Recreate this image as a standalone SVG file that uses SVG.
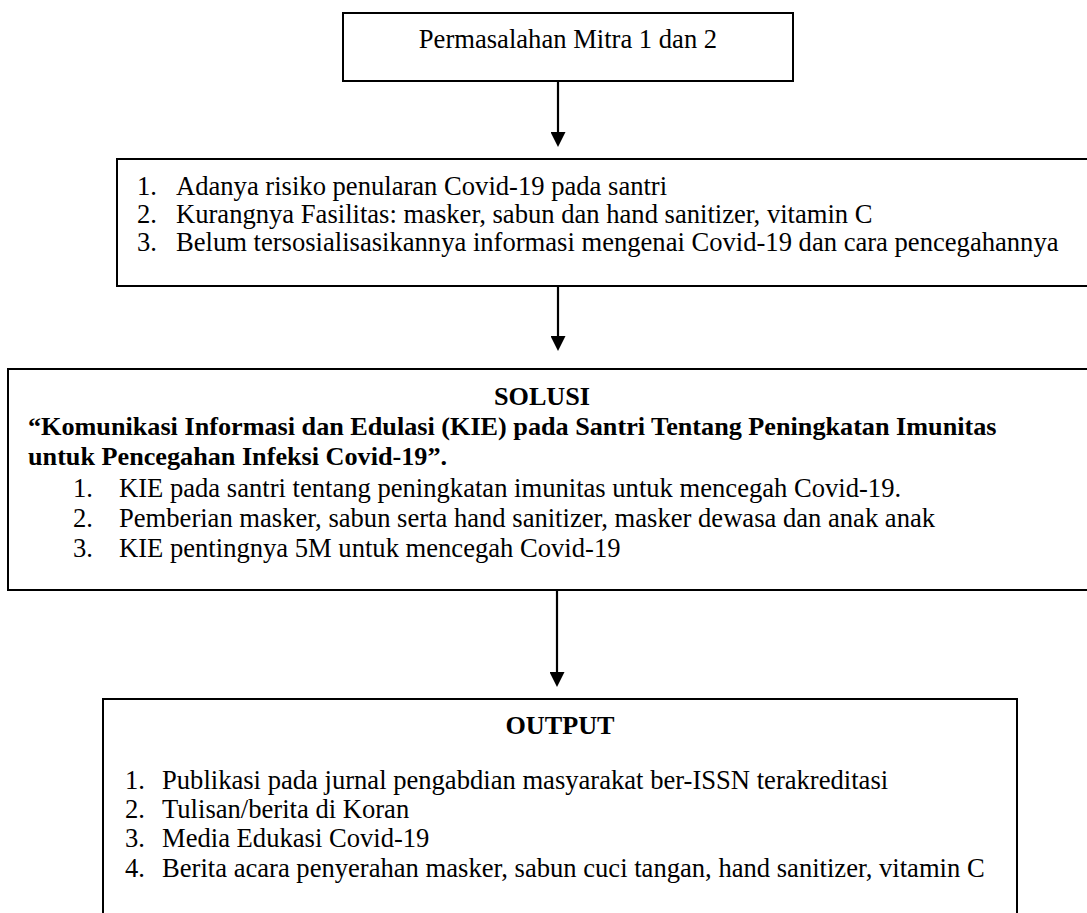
<svg xmlns="http://www.w3.org/2000/svg" width="1087" height="913" viewBox="0 0 1087 913">
<style>
.box{fill:#fff;stroke:#000;stroke-width:2}
.t{font-family:"Liberation Serif","Times New Roman",serif;font-size:26.6px;fill:#000}
.b{font-weight:bold;font-size:26.2px}
.conn{stroke:#000;stroke-width:2.2;fill:none}
</style>
<defs>
<marker id="arr" markerWidth="15" markerHeight="15" viewBox="0 0 15 15" refX="0" refY="7.5" orient="auto" markerUnits="userSpaceOnUse">
<path d="M0,0 L15,7.5 L0,15 z" fill="#000"/>
</marker>
</defs>
<rect width="1087" height="913" fill="#fff"/>
<g id="connectors">
<line class="conn" x1="558" y1="81" x2="558" y2="132" marker-end="url(#arr)"/>
<line class="conn" x1="558" y1="286" x2="558" y2="336" marker-end="url(#arr)"/>
<line class="conn" x1="557" y1="590" x2="557" y2="672" marker-end="url(#arr)"/>
</g>
<g id="node-permasalahan">
<rect class="box" x="343" y="13" width="450" height="68"/>
<text class="t" x="568" y="48" text-anchor="middle">Permasalahan Mitra 1 dan 2</text>
</g>
<g id="node-masalah">
<rect class="box" x="117" y="159" width="990" height="127"/>
<text class="t" x="137" y="195">1.</text><text class="t" x="176" y="195">Adanya risiko penularan Covid-19 pada santri</text>
<text class="t" x="137" y="223">2.</text><text class="t" x="176" y="223">Kurangnya Fasilitas: masker, sabun dan hand sanitizer, vitamin C</text>
<text class="t" x="137" y="251">3.</text><text class="t" x="176" y="251">Belum tersosialisasikannya informasi mengenai Covid-19 dan cara pencegahannya</text>
</g>
<g id="node-solusi">
<rect class="box" x="8" y="369" width="1100" height="221"/>
<text class="t b" x="542" y="405" text-anchor="middle">SOLUSI</text>
<text class="t b" x="28" y="435">“Komunikasi Informasi dan Edulasi (KIE) pada Santri Tentang Peningkatan Imunitas</text>
<text class="t b" x="28" y="465">untuk Pencegahan Infeksi Covid-19”.</text>
<text class="t" x="73" y="497">1.</text><text class="t" x="119" y="497">KIE pada santri tentang peningkatan imunitas untuk mencegah Covid-19.</text>
<text class="t" x="73" y="527">2.</text><text class="t" x="119" y="527">Pemberian masker, sabun serta hand sanitizer, masker dewasa dan anak anak</text>
<text class="t" x="73" y="557">3.</text><text class="t" x="119" y="557">KIE pentingnya 5M untuk mencegah Covid-19</text>
</g>
<g id="node-output">
<rect class="box" x="103" y="699" width="914" height="240"/>
<text class="t b" x="560" y="734" text-anchor="middle">OUTPUT</text>
<text class="t" x="125" y="789">1.</text><text class="t" x="162" y="789">Publikasi pada jurnal pengabdian masyarakat ber-ISSN terakreditasi</text>
<text class="t" x="125" y="818">2.</text><text class="t" x="162" y="818">Tulisan/berita di Koran</text>
<text class="t" x="125" y="847">3.</text><text class="t" x="162" y="847">Media Edukasi Covid-19</text>
<text class="t" x="125" y="877">4.</text><text class="t" x="162" y="877">Berita acara penyerahan masker, sabun cuci tangan, hand sanitizer, vitamin C</text>
</g>
</svg>
